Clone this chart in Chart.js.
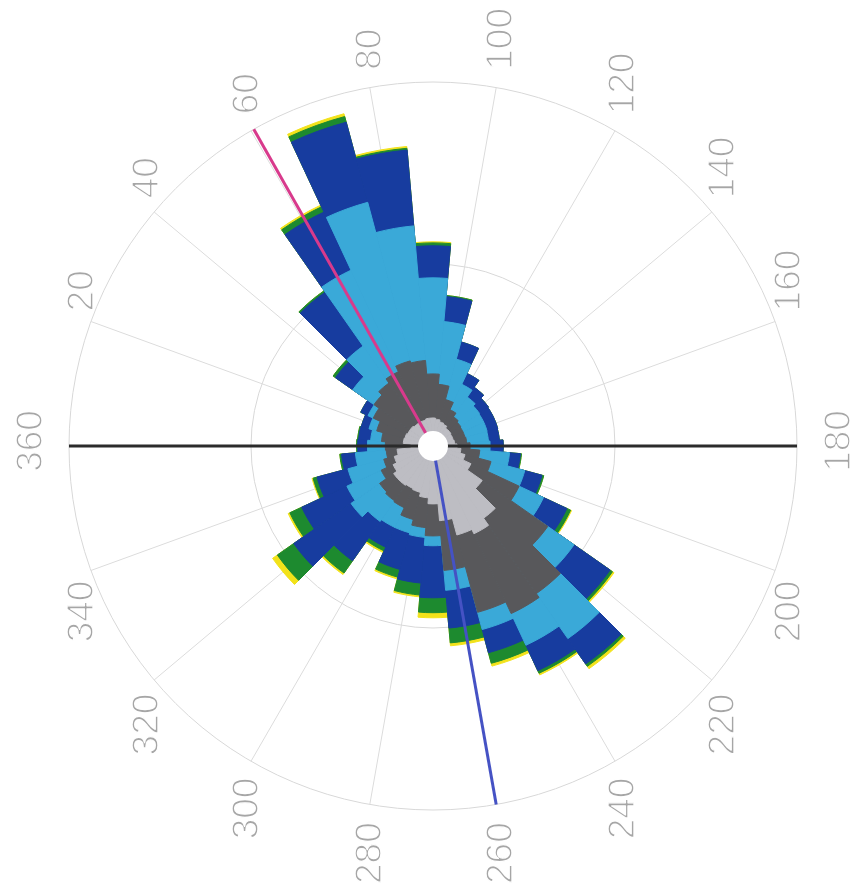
<!DOCTYPE html>
<html><head><meta charset="utf-8">
<script src="https://cdn.jsdelivr.net/npm/chart.js@4.4.1/dist/chart.umd.min.js"></script>
<style>html,body{margin:0;padding:0;background:#fff;overflow:hidden}</style>
</head><body>
<canvas id="c" width="857" height="896"></canvas>
<script>
// direction bins (degrees, bin centre, 10 degree wide)
const directions = [0,10,20,30,40,50,60,70,80,90,100,110,120,130,140,150,160,170,180,190,200,210,220,230,240,250,260,270,280,290,300,310,320,330,340,350];
// frequency per class (stacked outward), arbitrary units, outer ring = 100
const class1 = [6.0,8.2,8.0,7.7,7.7,7.4,7.4,7.4,7.7,7.7,7.4,6.9,6.6,6.0,6.0,5.8,5.8,6.0,6.6,7.7,9.1,11.5,16.5,24.2,26.6,25.3,20.6,15.9,14.3,13.2,12.9,13.2,13.2,12.1,11.0,9.9];
const class2 = [7.1,6.0,8.0,10.4,12.1,13.7,15.1,16.8,15.9,12.1,9.6,6.3,4.4,3.8,3.3,3.3,3.3,3.3,3.6,5.2,7.4,14.6,22.0,25.3,24.2,22.0,13.7,8.8,8.2,7.7,5.8,5.2,4.7,3.6,3.0,3.0];
const class3 = [4.9,3.0,2.2,1.6,7.1,12.4,30.8,45.1,37.1,26.4,17.3,11.5,7.7,6.6,6.3,6.3,6.3,6.0,5.5,8.2,9.6,7.4,8.8,15.1,9.6,4.9,5.5,2.7,2.7,3.8,6.0,6.9,9.6,10.4,10.2,8.5];
const class4 = [2.7,3.3,2.2,2.2,5.8,18.1,17.6,22.8,20.9,8.8,6.9,4.9,3.3,3.3,3.0,3.0,3.0,3.0,3.6,3.0,4.9,7.1,12.1,8.5,7.7,6.6,10.4,14.3,12.6,10.4,6.0,13.2,19.2,13.7,8.8,3.8];
const class5 = [0.3,0.3,0,0,0.8,0.5,1.6,1.6,0.5,0.8,0.3,0,0,0,0,0,0,0,0,0.3,0.5,1.1,0.8,0.8,0.8,3.0,4.1,4.1,3.3,2.2,1.1,4.1,5.5,3.6,1.1,0.5];
const class6 = [0,0,0,0,0,0,0.5,0.8,0.5,0.3,0,0,0,0,0,0,0,0,0,0,0,0.3,0.5,0.8,0.5,0.8,0.8,1.4,0.5,0.5,0.5,0.5,1.6,0.5,0.3,0];
// angle tick labels
const angleTicks = [20,40,60,80,100,120,140,160,180,200,220,240,260,280,300,320,340,360];
// marked directions
const meanDirection = 60.5;
const secondDirection = 260;
const referenceAxis = [0,180];

const classColors = ['#bdbdc3','#58585b','#3aa9d8','#173c9f','#1d8a2f','#f2e21a'];
const classes = [class1,class2,class3,class4,class5,class6];
let running = directions.map(()=>0);
const datasets = classes.map((arr,k)=>{
  running = running.map((v,i)=>v+arr[i]);
  return {data: running.slice(), backgroundColor: classColors[k], borderColor: classColors[k], borderWidth: 1, order: k};
});

function pt(scale, deg, r){
  const a = (deg + 180) * Math.PI / 180;
  return [scale.xCenter + r*Math.cos(a), scale.yCenter + r*Math.sin(a)];
}

const decor = {
  id: 'decor',
  beforeDatasetsDraw(chart){
    const s = chart.scales.r, ctx = chart.ctx, R = s.drawingArea;
    ctx.save();
    ctx.strokeStyle = '#dcdcdc'; ctx.lineWidth = 1;
    for (let d = 0; d < 360; d += 20){
      const p = pt(s, d, R);
      ctx.beginPath(); ctx.moveTo(s.xCenter, s.yCenter); ctx.lineTo(p[0], p[1]); ctx.stroke();
    }
    const fs = 37;
    ctx.font = fs + 'px "Liberation Sans", Arial, sans-serif';
    ctx.textBaseline = 'alphabetic';
    ctx.lineJoin = 'round';
    angleTicks.forEach(t=>{
      const a = (t + 180) * Math.PI / 180;
      const ux = Math.cos(a), uy = Math.sin(a);
      const p = pt(s, t, R + 12);
      let x = p[0], y = p[1], align;
      if (Math.abs(uy) < 0.05) {
        x += ux * (0.358*fs + 15);
        y -= 5;
        align = 'center';
      } else if (uy < 0) {
        y -= 6; align = 'left';
      } else {
        y += 6; align = 'right';
      }
      ctx.save(); ctx.translate(x, y); ctx.rotate(-Math.PI/2);
      ctx.textAlign = align;
      ctx.fillStyle = '#a6a6a6';
      ctx.fillText(String(t), 0, 0.358*fs);
      ctx.strokeStyle = '#ffffff'; ctx.lineWidth = 1.3;
      ctx.strokeText(String(t), 0, 0.358*fs);
      ctx.restore();
    });
    ctx.restore();
  },
  afterDatasetsDraw(chart){
    const s = chart.scales.r, ctx = chart.ctx, R = s.drawingArea;
    ctx.save();
    ctx.lineCap = 'butt';
    let a = pt(s, referenceAxis[0], R), b = pt(s, referenceAxis[1], R);
    ctx.strokeStyle = '#2b2b2b'; ctx.lineWidth = 3;
    ctx.beginPath(); ctx.moveTo(a[0], a[1]); ctx.lineTo(b[0], b[1]); ctx.stroke();
    b = pt(s, meanDirection, R);
    ctx.strokeStyle = '#d83a8c'; ctx.lineWidth = 3;
    ctx.beginPath(); ctx.moveTo(s.xCenter, s.yCenter); ctx.lineTo(b[0], b[1]); ctx.stroke();
    b = pt(s, secondDirection, R);
    ctx.strokeStyle = '#4552c4'; ctx.lineWidth = 3;
    ctx.beginPath(); ctx.moveTo(s.xCenter, s.yCenter); ctx.lineTo(b[0], b[1]); ctx.stroke();
    ctx.fillStyle = '#ffffff';
    ctx.beginPath(); ctx.arc(s.xCenter, s.yCenter, 15, 0, Math.PI*2); ctx.fill();
    ctx.restore();
  }
};

new Chart(document.getElementById('c'), {
  type: 'polarArea',
  data: { labels: directions.map(String), datasets },
  options: {
    responsive: false,
    animation: false,
    layout: { padding: { left: 69, right: 60, top: 82, bottom: 86 } },
    plugins: { legend: { display: false }, tooltip: { enabled: false } },
    scales: {
      r: {
        startAngle: 265,
        min: 0, max: 100,
        ticks: { display: false, stepSize: 50 },
        grid: { circular: true, color: '#d8d8d8', lineWidth: 1 },
        angleLines: { display: false },
        pointLabels: { display: false }
      }
    }
  },
  plugins: [decor]
});
</script>
</body></html>
